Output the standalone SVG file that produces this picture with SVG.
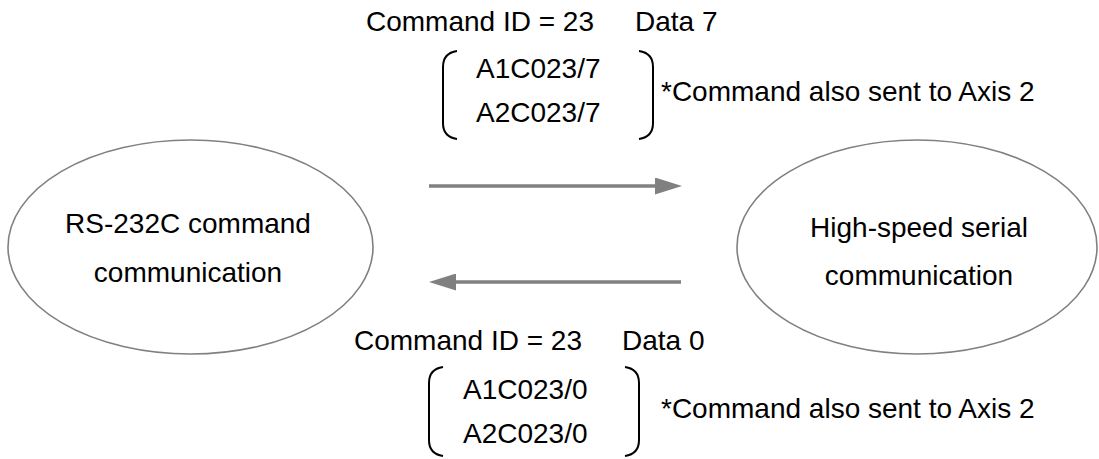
<svg xmlns="http://www.w3.org/2000/svg" width="1099" height="459" viewBox="0 0 1099 459">
<style>
text{font-family:"Liberation Sans",Arial,sans-serif;font-size:28px;fill:#000}
.mid{text-anchor:middle}
.node{fill:#fff;stroke:#808080;stroke-width:1.6}
.br{fill:none;stroke:#000;stroke-width:2}
.conn{stroke:#808080;stroke-width:3.5;fill:none}
</style>
<defs>
<marker id="ah" markerUnits="userSpaceOnUse" markerWidth="27" markerHeight="17" refX="0" refY="8.5" orient="auto">
<path d="M0,0 L27,8.5 L0,17 Z" fill="#808080"/>
</marker>
</defs>
<rect width="1099" height="459" fill="#fff"/>
<g id="rs232c">
<ellipse class="node" cx="190.5" cy="247" rx="182.5" ry="107"/>
<text class="mid" x="188" y="233">RS-232C command</text>
<text class="mid" x="188" y="282">communication</text>
</g>
<g id="highspeed">
<ellipse class="node" cx="917" cy="247" rx="180" ry="107"/>
<text class="mid" x="919" y="237">High-speed serial</text>
<text class="mid" x="919" y="285">communication</text>
</g>
<g id="connectors">
<line class="conn" x1="429" y1="186" x2="655" y2="186" marker-end="url(#ah)"/>
<line class="conn" x1="681" y1="282" x2="456" y2="282" marker-end="url(#ah)"/>
</g>
<g id="label-top">
<text x="366" y="31">Command ID = 23</text>
<text x="635" y="31">Data 7</text>
<path class="br" d="M457,51 Q443,53 443,67 L443,123 Q443,137 457,139"/>
<text x="476" y="78">A1C023/7</text>
<text x="476" y="122">A2C023/7</text>
<path class="br" d="M639,51 Q653,53 653,67 L653,123 Q653,137 639,139"/>
<text x="661" y="101">*Command also sent to Axis 2</text>
</g>
<g id="label-bottom">
<text x="354" y="350">Command ID = 23</text>
<text x="622" y="350">Data 0</text>
<path class="br" d="M443,367 Q429,369 429,383 L429,440 Q429,454 443,456"/>
<text x="463" y="399">A1C023/0</text>
<text x="463" y="443">A2C023/0</text>
<path class="br" d="M625,367 Q639,369 639,383 L639,440 Q639,454 625,456"/>
<text x="661" y="418">*Command also sent to Axis 2</text>
</g>
</svg>
